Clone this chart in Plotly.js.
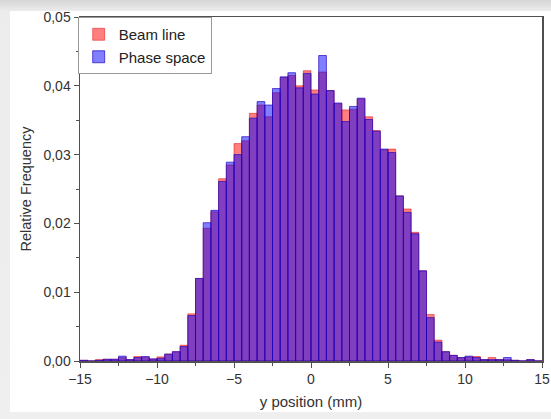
<!DOCTYPE html>
<html>
<head>
<meta charset="utf-8">
<script src="https://cdn.plot.ly/plotly-3.0.1.min.js"></script>
<style>
  html, body { margin: 0; padding: 0; width: 551px; height: 419px; overflow: hidden;
    background: linear-gradient(#d6d6d6, #ececec 11px, #efefef); }
  #panel { position: absolute; left: 10px; top: 11px; width: 541px; height: 401px; background: #fff; }
  #chart { position: absolute; left: 0; top: 0; width: 551px; height: 419px; }
</style>
</head>
<body>
<div id="panel"></div>
<div id="chart"></div>
<script>
// Bin centres (mm), bin width 0.5 mm
const binCenters = [
  -14.75, -14.25, -13.75, -13.25, -12.75, -12.25, -11.75, -11.25, -10.75, -10.25,
  -9.75, -9.25, -8.75, -8.25, -7.75, -7.25, -6.75, -6.25, -5.75, -5.25,
  -4.75, -4.25, -3.75, -3.25, -2.75, -2.25, -1.75, -1.25, -0.75, -0.25,
  0.25, 0.75, 1.25, 1.75, 2.25, 2.75, 3.25, 3.75, 4.25, 4.75,
  5.25, 5.75, 6.25, 6.75, 7.25, 7.75, 8.25, 8.75, 9.25, 9.75,
  10.25, 10.75, 11.25, 11.75, 12.25, 12.75, 13.25, 13.75, 14.25, 14.75
];

const beamLine = [
  0.0001, 0.0000, 0.0002, 0.00025, 0.00025, 0.0005, 0.0002, 0.00065, 0.0005, 0.0003,
  0.0006, 0.0010, 0.00135, 0.0023, 0.00685, 0.0120, 0.0193, 0.0217, 0.0265, 0.0285,
  0.0316, 0.0320, 0.0360, 0.0372, 0.0355, 0.0390, 0.0412, 0.0415, 0.0400, 0.0422,
  0.0394, 0.0420, 0.0393, 0.0374, 0.0365, 0.0366, 0.0381, 0.0355, 0.0335, 0.0307,
  0.0308, 0.0240, 0.0221, 0.0187, 0.0131, 0.00675, 0.00304, 0.00135, 0.00082, 0.0005,
  0.0006, 0.00065, 0.0002, 0.0005, 0.0002, 0.0002, 0.0001, 0.0000, 0.0002, 0.0000
];

const phaseSpace = [
  0.0001, 0.0000, 0.0001, 0.00025, 0.00025, 0.0007, 0.0002, 0.0005, 0.00065, 0.0003,
  0.0004, 0.0010, 0.00135, 0.0021, 0.0066, 0.0120, 0.0201, 0.0219, 0.0261, 0.0289,
  0.0300, 0.0326, 0.0353, 0.0377, 0.0372, 0.0396, 0.0413, 0.0419, 0.0397, 0.0418,
  0.0388, 0.0444, 0.0393, 0.0375, 0.0348, 0.0370, 0.0382, 0.0351, 0.0334, 0.0308,
  0.0303, 0.0240, 0.0216, 0.0185, 0.0131, 0.0063, 0.00275, 0.00135, 0.00082, 0.0005,
  0.0007, 0.0005, 0.0002, 0.0002, 0.0002, 0.0005, 0.0001, 0.0000, 0.0002, 0.0000
];

const seriesNames = ["Beam line", "Phase space"];
const xTickVals = [-15, -10, -5, 0, 5, 10, 15];
const yTickVals = [0, 0.01, 0.02, 0.03, 0.04, 0.05];

const font = "Liberation Sans, Arial, sans-serif";

const traces = [
  {
    type: "bar", x: binCenters, y: beamLine, name: seriesNames[0], width: 0.5,
    marker: { color: "rgba(255,0,0,0.5)", line: { color: "rgba(220,0,0,0.6)", width: 0.8 } }
  },
  {
    type: "bar", x: binCenters, y: phaseSpace, name: seriesNames[1], width: 0.5,
    marker: { color: "rgba(0,0,255,0.5)", line: { color: "rgba(30,0,190,0.85)", width: 0.8 } }
  }
];

const axisCommon = {
  showline: true, linecolor: "#505050", linewidth: 1.5, mirror: true,
  ticks: "outside", ticklen: 5, tickwidth: 1, tickcolor: "#505050",
  showgrid: false, zeroline: false, ticklabeloverflow: "allow",
  tickfont: { family: font, size: 14, color: "#333" }
};

const layout = {
  width: 551, height: 419,
  margin: { l: 80, r: 9, t: 17, b: 58 },
  paper_bgcolor: "rgba(0,0,0,0)", plot_bgcolor: "#fff",
  barmode: "overlay", bargap: 0,
  separators: ",.",
  font: { family: font, color: "#333" },
  xaxis: Object.assign({}, axisCommon, {
    range: [-15, 15], tickvals: xTickVals,
    minor: { dtick: 2.5, tick0: -15, ticks: "outside", ticklen: 3, tickcolor: "#505050" },
    title: { text: "y position (mm)", font: { family: font, size: 15, color: "#333" }, standoff: 10 }
  }),
  yaxis: Object.assign({}, axisCommon, {
    range: [0, 0.05], tickvals: yTickVals, tickformat: ".2f",
    minor: { dtick: 0.005, tick0: 0, ticks: "outside", ticklen: 3, tickcolor: "#505050" },
    title: { text: "Relative Frequency", font: { family: font, size: 14.5, color: "#333" }, standoff: 8 }
  }),
  legend: {
    x: -0.005, y: 1, xanchor: "left", yanchor: "top",
    bgcolor: "#fff", bordercolor: "#999", borderwidth: 1,
    font: { family: font, size: 15, color: "#222" },
    itemwidth: 30, tracegroupgap: 0
  },
  showlegend: true
};

Plotly.newPlot("chart", traces, layout, { displayModeBar: false, staticPlot: true });
</script>
</body>
</html>
